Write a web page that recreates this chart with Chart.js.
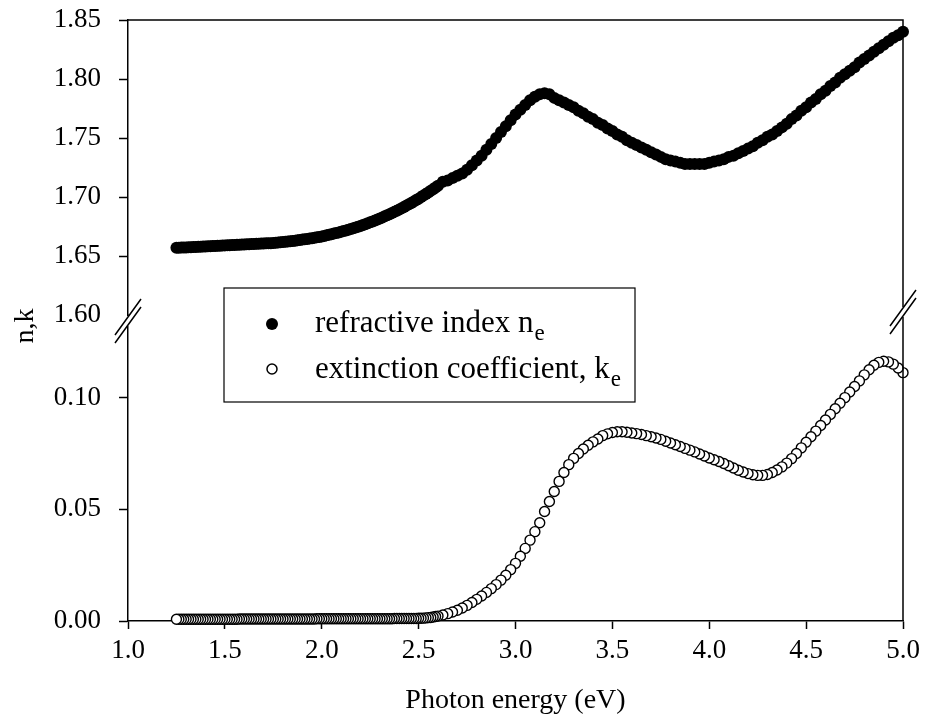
<!DOCTYPE html>
<html>
<head>
<meta charset="utf-8">
<script src="https://cdn.jsdelivr.net/npm/chart.js@4"></script>
<style>
  body { margin: 0; background: #fff; }
  canvas { display: block; }
</style>
</head>
<body>
<canvas id="myChart" width="932" height="724"></canvas>
<script>
// Photon energy (eV) - denser below 2.6 eV like the measurement
const energy = [
  1.2500, 1.2625, 1.2750, 1.2875, 1.3000, 1.3125, 1.3250, 1.3375,
  1.3500, 1.3625, 1.3750, 1.3875, 1.4000, 1.4125, 1.4250, 1.4375,
  1.4500, 1.4625, 1.4750, 1.4875, 1.5000, 1.5125, 1.5250, 1.5375,
  1.5500, 1.5625, 1.5750, 1.5875, 1.6000, 1.6125, 1.6250, 1.6375,
  1.6500, 1.6625, 1.6750, 1.6875, 1.7000, 1.7125, 1.7250, 1.7375,
  1.7500, 1.7625, 1.7750, 1.7875, 1.8000, 1.8125, 1.8250, 1.8375,
  1.8500, 1.8625, 1.8750, 1.8875, 1.9000, 1.9125, 1.9250, 1.9375,
  1.9500, 1.9625, 1.9750, 1.9875, 2.0000, 2.0125, 2.0250, 2.0375,
  2.0500, 2.0625, 2.0750, 2.0875, 2.1000, 2.1125, 2.1250, 2.1375,
  2.1500, 2.1625, 2.1750, 2.1875, 2.2000, 2.2125, 2.2250, 2.2375,
  2.2500, 2.2625, 2.2750, 2.2875, 2.3000, 2.3125, 2.3250, 2.3375,
  2.3500, 2.3625, 2.3750, 2.3875, 2.4000, 2.4125, 2.4250, 2.4375,
  2.4500, 2.4625, 2.4750, 2.4875, 2.5000, 2.5125, 2.5250, 2.5375,
  2.5500, 2.5625, 2.5750, 2.5875, 2.6000,
  2.625, 2.650, 2.675, 2.700, 2.725,
  2.750, 2.775, 2.800, 2.825, 2.850, 2.875, 2.900, 2.925, 2.950, 2.975,
  3.000, 3.025, 3.050, 3.075, 3.100, 3.125, 3.150, 3.175, 3.200, 3.225,
  3.250, 3.275, 3.300, 3.325, 3.350, 3.375, 3.400, 3.425, 3.450, 3.475,
  3.500, 3.525, 3.550, 3.575, 3.600, 3.625, 3.650, 3.675, 3.700, 3.725,
  3.750, 3.775, 3.800, 3.825, 3.850, 3.875, 3.900, 3.925, 3.950, 3.975,
  4.000, 4.025, 4.050, 4.075, 4.100, 4.125, 4.150, 4.175, 4.200, 4.225,
  4.250, 4.275, 4.300, 4.325, 4.350, 4.375, 4.400, 4.425, 4.450, 4.475,
  4.500, 4.525, 4.550, 4.575, 4.600, 4.625, 4.650, 4.675, 4.700, 4.725,
  4.750, 4.775, 4.800, 4.825, 4.850, 4.875, 4.900, 4.925, 4.950, 4.975,
  5.000
];

// refractive index n_e
const nIndex = [
  1.6570, 1.6570, 1.6571, 1.6572, 1.6573, 1.6574, 1.6575, 1.6576,
  1.6577, 1.6578, 1.6579, 1.6580, 1.6581, 1.6582, 1.6583, 1.6584,
  1.6585, 1.6586, 1.6587, 1.6588, 1.6590, 1.6591, 1.6592, 1.6593,
  1.6594, 1.6595, 1.6596, 1.6597, 1.6598, 1.6599, 1.6600, 1.6601,
  1.6602, 1.6603, 1.6604, 1.6605, 1.6606, 1.6607, 1.6608, 1.6609,
  1.6610, 1.6612, 1.6614, 1.6616, 1.6618, 1.6620, 1.6622, 1.6624,
  1.6627, 1.6630, 1.6633, 1.6636, 1.6639, 1.6642, 1.6645, 1.6648,
  1.6651, 1.6654, 1.6658, 1.6662, 1.6666, 1.6670, 1.6675, 1.6680,
  1.6685, 1.6690, 1.6695, 1.6700, 1.6705, 1.6711, 1.6717, 1.6723,
  1.6729, 1.6735, 1.6741, 1.6748, 1.6755, 1.6762, 1.6769, 1.6777,
  1.6785, 1.6793, 1.6801, 1.6809, 1.6818, 1.6827, 1.6836, 1.6845,
  1.6854, 1.6864, 1.6874, 1.6884, 1.6894, 1.6905, 1.6916, 1.6927,
  1.6938, 1.6950, 1.6962, 1.6974, 1.6986, 1.6999, 1.7012, 1.7025,
  1.7038, 1.7052, 1.7066, 1.7080, 1.7095,
  1.713, 1.714, 1.716, 1.718, 1.720,
  1.723, 1.727, 1.731, 1.735, 1.740, 1.745, 1.750, 1.755, 1.760, 1.765,
  1.770, 1.774, 1.778, 1.782, 1.785, 1.787, 1.788, 1.787, 1.784, 1.782,
  1.780, 1.778, 1.776, 1.773, 1.771, 1.768, 1.766, 1.763, 1.761, 1.758,
  1.756, 1.753, 1.751, 1.748, 1.746, 1.744, 1.742, 1.740, 1.738, 1.736,
  1.734, 1.732, 1.731, 1.730, 1.729, 1.728, 1.728, 1.728, 1.728, 1.728,
  1.729, 1.730, 1.731, 1.732, 1.734, 1.735, 1.737, 1.739, 1.741, 1.743,
  1.746, 1.748, 1.751, 1.753, 1.756, 1.759, 1.762, 1.766, 1.769, 1.773,
  1.776, 1.780, 1.783, 1.787, 1.790, 1.794, 1.797, 1.801, 1.804, 1.807,
  1.810, 1.814, 1.817, 1.820, 1.823, 1.826, 1.829, 1.832, 1.835, 1.837,
  1.840
];

// extinction coefficient k_e
const kExt = [
  0.0008, 0.0008, 0.0008, 0.0008, 0.0008, 0.0008, 0.0008, 0.0008,
  0.0008, 0.0008, 0.0008, 0.0008, 0.0008, 0.0008, 0.0008, 0.0008,
  0.0008, 0.0008, 0.0008, 0.0008, 0.0008, 0.0008, 0.0008, 0.0008,
  0.0008, 0.0008, 0.0009, 0.0009, 0.0009, 0.0009, 0.0009, 0.0009,
  0.0009, 0.0009, 0.0009, 0.0009, 0.0009, 0.0009, 0.0009, 0.0009,
  0.0009, 0.0009, 0.0009, 0.0009, 0.0009, 0.0009, 0.0009, 0.0009,
  0.0009, 0.0009, 0.0009, 0.0009, 0.0009, 0.0009, 0.0009, 0.0009,
  0.0009, 0.0009, 0.0010, 0.0010, 0.0010, 0.0010, 0.0010, 0.0010,
  0.0010, 0.0010, 0.0010, 0.0010, 0.0010, 0.0010, 0.0010, 0.0010,
  0.0010, 0.0010, 0.0010, 0.0010, 0.0010, 0.0010, 0.0010, 0.0010,
  0.0010, 0.0010, 0.0010, 0.0010, 0.0010, 0.0010, 0.0010, 0.0010,
  0.0010, 0.0010, 0.0011, 0.0011, 0.0011, 0.0011, 0.0011, 0.0011,
  0.0011, 0.0011, 0.0011, 0.0011, 0.0012, 0.0012, 0.0013, 0.0014,
  0.0015, 0.0016, 0.0018, 0.0020, 0.0022,
  0.0027, 0.0033, 0.0040, 0.0048, 0.0058,
  0.0070, 0.0083, 0.0097, 0.0112, 0.0128, 0.0145, 0.0163, 0.0183, 0.0205, 0.0230,
  0.0258, 0.0290, 0.0325, 0.0362, 0.0400, 0.0440, 0.0490, 0.0535, 0.0580, 0.0625,
  0.0665, 0.0700, 0.0728, 0.0750, 0.0770, 0.0787, 0.0802, 0.0815, 0.0830, 0.0838,
  0.0844, 0.0847, 0.0847, 0.0845, 0.0842, 0.0839, 0.0835, 0.0830, 0.0825, 0.0819,
  0.0813, 0.0805, 0.0797, 0.0789, 0.0781, 0.0773, 0.0765, 0.0757, 0.0748, 0.0739,
  0.0730, 0.0722, 0.0714, 0.0705, 0.0695, 0.0685, 0.0675, 0.0667, 0.0660, 0.0655,
  0.0652, 0.0652, 0.0656, 0.0665, 0.0676, 0.0690, 0.0707, 0.0727, 0.0750, 0.0775,
  0.0800, 0.0825, 0.0850, 0.0875, 0.0900, 0.0925, 0.0950, 0.0975, 0.1000, 0.1025,
  0.1050, 0.1075, 0.1102, 0.1125, 0.1145, 0.1158, 0.1163, 0.1160, 0.1150, 0.1133,
  0.1112
];

// axis ticks
const xTicks = [1.0, 1.5, 2.0, 2.5, 3.0, 3.5, 4.0, 4.5, 5.0];
const nTicks = [1.60, 1.65, 1.70, 1.75, 1.80, 1.85];
const kTicks = [0.00, 0.05, 0.10];

const serif = '"Liberation Serif", "Times New Roman", serif';

// points as {x, y}; k drawn from high energy down so the left circle ends up on top
const nPoints = energy.map((e, i) => ({ x: e, y: nIndex[i] }));
const kPoints = energy.map((e, i) => ({ x: e, y: kExt[i] })).reverse();

// frame, axis breaks, legend and y title
const extras = {
  id: 'extras',
  afterDraw(chart) {
    const { ctx, chartArea } = chart;
    const brk = chart.scales.yK.top;
    ctx.save();
    ctx.strokeStyle = '#000';
    ctx.lineWidth = 1.5;

    // top and right border
    ctx.beginPath();
    ctx.moveTo(chartArea.left, chartArea.top);
    ctx.lineTo(chartArea.right, chartArea.top);
    ctx.lineTo(chartArea.right, chartArea.bottom);
    ctx.stroke();

    // break marks
    const slash = (cx, cy) => {
      ctx.clearRect(cx - 3, cy - 5, 6, 10);
      ctx.beginPath();
      ctx.moveTo(cx - 13, cy + 14);
      ctx.lineTo(cx + 13, cy - 22);
      ctx.moveTo(cx - 13, cy + 22);
      ctx.lineTo(cx + 13, cy - 14);
      ctx.stroke();
    };
    slash(chartArea.left, brk + 6);
    slash(chartArea.right, brk - 3);

    // legend box
    const ds = chart.data.datasets;
    ctx.lineWidth = 1.2;
    ctx.strokeRect(224, 288, 411, 114);
    ctx.fillStyle = '#000';
    ctx.beginPath();
    ctx.arc(272, 324, 6, 0, Math.PI * 2);
    ctx.fill();
    ctx.fillStyle = '#fff';
    ctx.lineWidth = 1.5;
    ctx.beginPath();
    ctx.arc(272, 369, 5, 0, Math.PI * 2);
    ctx.fill();
    ctx.stroke();

    ctx.fillStyle = '#000';
    ctx.textBaseline = 'alphabetic';
    ctx.textAlign = 'left';
    [[ds[0].label, 332], [ds[1].label, 378]].forEach(([lbl, y]) => {
      ctx.font = '31px ' + serif;
      ctx.fillText(lbl, 315, y);
      const w = ctx.measureText(lbl).width;
      ctx.font = '23px ' + serif;
      ctx.fillText('e', 316 + w, y + 8);
    });

    // y title
    ctx.font = '28px ' + serif;
    ctx.translate(26, 326);
    ctx.rotate(-Math.PI / 2);
    ctx.textAlign = 'center';
    ctx.textBaseline = 'middle';
    ctx.fillText('n,k', 0, 0);
    ctx.restore();
  }
};

const tickFont = { family: serif, size: 27 };

// fixed axis width, no extra label padding so the plot starts at y = 20
const fitY = s => { s.width = 128; s.paddingTop = 0; s.paddingBottom = 0; };

const myChart = new Chart(document.getElementById('myChart').getContext('2d'), {
  type: 'scatter',
  data: {
    datasets: [{
      label: 'refractive index n',
      data: nPoints,
      yAxisID: 'yN',
      pointRadius: 6,
      pointBackgroundColor: '#000',
      pointBorderWidth: 0,
      clip: false
    }, {
      label: 'extinction coefficient, k',
      data: kPoints,
      yAxisID: 'yK',
      pointRadius: 5,
      pointBackgroundColor: '#fff',
      pointBorderColor: '#000',
      pointBorderWidth: 1.4,
      clip: false
    }]
  },
  options: {
    responsive: false,
    animation: false,
    layout: { padding: { top: 20, right: 29, left: 0, bottom: 0 } },
    plugins: {
      legend: { display: false },
      tooltip: { enabled: false }
    },
    scales: {
      x: {
        type: 'linear',
        min: 1.0,
        max: 5.0,
        afterFit: s => { s.height = 103; },
        afterBuildTicks: s => { s.ticks = xTicks.map(v => ({ value: v })); },
        ticks: { font: tickFont, color: '#000', padding: 6, autoSkip: false, maxRotation: 0, callback: v => v.toFixed(1) },
        grid: { drawOnChartArea: false, tickLength: 8, tickColor: '#000', tickWidth: 1.5 },
        border: { color: '#000', width: 1.5 },
        title: {
          display: true,
          text: 'Photon energy (eV)',
          font: { family: serif, size: 28 },
          color: '#000',
          padding: { top: 8, bottom: 7 }
        }
      },
      yK: {
        type: 'linear',
        position: 'left',
        stack: 'nk',
        stackWeight: 306,
        min: 0,
        max: 0.137,
        afterFit: fitY,
        afterBuildTicks: s => { s.ticks = kTicks.map(v => ({ value: v })); },
        ticks: { font: tickFont, color: '#000', padding: 18, autoSkip: false, callback: v => v.toFixed(2) },
        grid: { drawOnChartArea: false, tickLength: 9, tickColor: '#000', tickWidth: 1.5 },
        border: { color: '#000', width: 1.5 }
      },
      yN: {
        type: 'linear',
        position: 'left',
        stack: 'nk',
        stackWeight: 295,
        min: 1.60,
        max: 1.85,
        afterFit: fitY,
        afterBuildTicks: s => { s.ticks = nTicks.map(v => ({ value: v })); },
        ticks: { font: tickFont, color: '#000', padding: 18, autoSkip: false, callback: v => v.toFixed(2) },
        grid: {
          drawOnChartArea: false,
          tickLength: 9,
          tickWidth: 1.5,
          tickColor: c => (c.tick && Math.abs(c.tick.value - 1.60) < 1e-6) ? 'rgba(0,0,0,0)' : '#000'
        },
        border: { color: '#000', width: 1.5 }
      }
    }
  },
  plugins: [extras]
});
</script>
</body>
</html>
